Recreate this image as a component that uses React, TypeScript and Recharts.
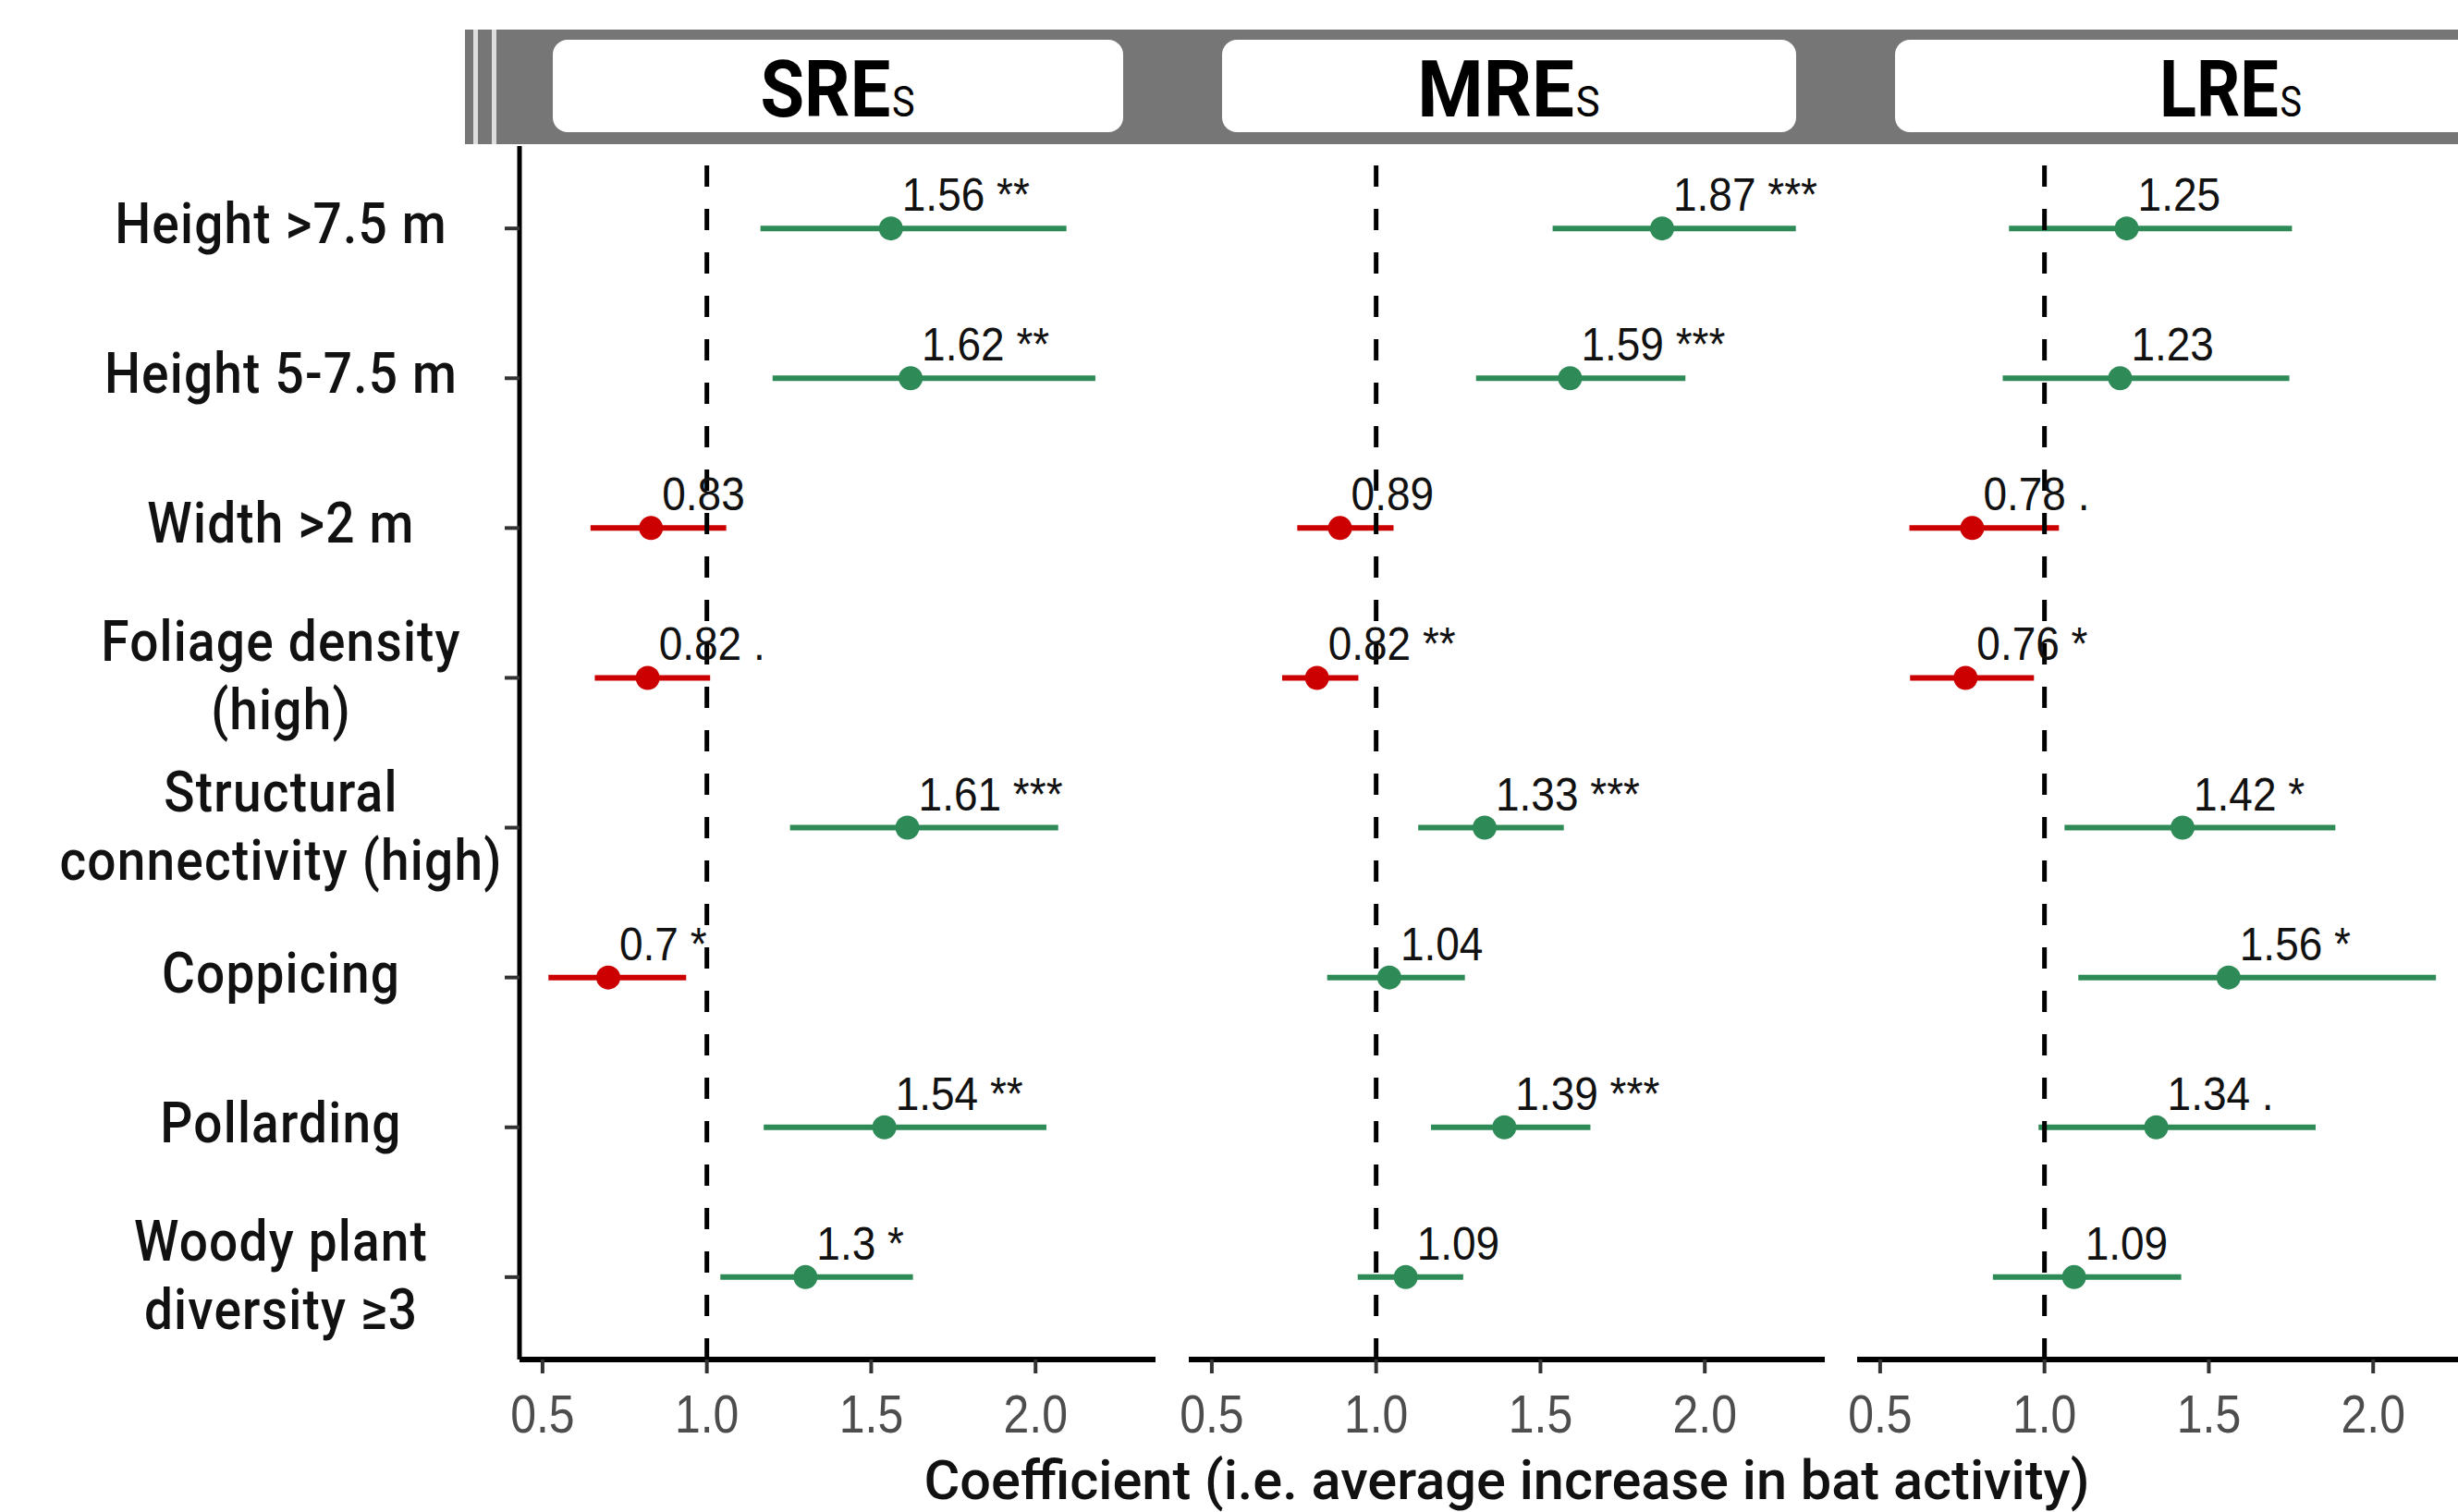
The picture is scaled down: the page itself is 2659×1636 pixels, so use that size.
import React from 'react';
import { ScatterChart, Scatter, XAxis, YAxis, ErrorBar, ReferenceLine } from 'recharts';

// rows, top to bottom
const CATEGORIES = [
    'Height >7.5 m',
    'Height 5-7.5 m',
    'Width >2 m',
    'Foliage density\n(high)',
    'Structural\nconnectivity (high)',
    'Coppicing',
    'Pollarding',
    'Woody plant\ndiversity ≥3',
];

const SRE_COEF = [1.56, 1.62, 0.83, 0.82, 1.61, 0.7, 1.54, 1.3];
const SRE_LO = [1.163, 1.2, 0.646, 0.659, 1.253, 0.518, 1.173, 1.041];
const SRE_HI = [2.094, 2.182, 1.059, 1.01, 2.069, 0.937, 2.033, 1.627];
const SRE_SIG = ['**', '**', '', '.', '***', '*', '**', '*'];

const MRE_COEF = [1.87, 1.59, 0.89, 0.82, 1.33, 1.04, 1.39, 1.09];
const MRE_LO = [1.537, 1.304, 0.76, 0.714, 1.128, 0.851, 1.167, 0.944];
const MRE_HI = [2.277, 1.941, 1.053, 0.946, 1.571, 1.27, 1.652, 1.265];
const MRE_SIG = ['***', '***', '', '**', '***', '', '***', ''];

const LRE_COEF = [1.25, 1.23, 0.78, 0.76, 1.42, 1.56, 1.34, 1.09];
const LRE_LO = [0.892, 0.873, 0.589, 0.591, 1.061, 1.103, 0.982, 0.843];
const LRE_HI = [1.753, 1.745, 1.044, 0.968, 1.885, 2.191, 1.825, 1.416];
const LRE_SIG = ['', '', '.', '*', '*', '*', '.', ''];

const X_TICKS = [0.5, 1.0, 1.5, 2.0];
const X_DOMAIN = [0.43, 2.365];
const Y_DOMAIN = [0.45, 8.55];

const GREEN = '#2E8B57';
const RED = '#CC0000';

const W = 2659;
const H = 1636;
const PLOT_TOP = 158;
const XAXIS_H = 165;
const PANEL_W = 688;
const PANEL_LEFTS = [562, 1286, 2009];

function buildRows(coef: number[], lo: number[], hi: number[], sig: string[]) {
    return CATEGORIES.map((c, i) => ({
        idx: i + 1,
        category: c,
        coef: coef[i],
        err: [coef[i] - lo[i], hi[i] - coef[i]],
        label: sig[i] ? `${coef[i]} ${sig[i]}` : `${coef[i]}`,
    }));
}

const PANELS = [
    { name: 'SRE', rows: buildRows(SRE_COEF, SRE_LO, SRE_HI, SRE_SIG), stripCenter: 906, stripScale: 0.9, boxL: 598, boxR: 1215 },
    { name: 'MRE', rows: buildRows(MRE_COEF, MRE_LO, MRE_HI, MRE_SIG), stripCenter: 1632, stripScale: 0.95, boxL: 1322, boxR: 1943 },
    { name: 'LRE', rows: buildRows(LRE_COEF, LRE_LO, LRE_HI, LRE_SIG), stripCenter: 2413, stripScale: 0.86, boxL: 2050, boxR: 2776 },
];

// point + value label drawn together
function makeShape(color: string) {
    return (props: any) => {
        const { cx, cy, payload } = props;
        if (cx == null || cy == null) return <g />;
        return (
            <g>
                <circle cx={cx} cy={cy} r={13} fill={color} />
                <text
                    transform={`translate(${cx + 12},${cy - 19}) scale(1,1.07)`}
                    fontFamily="'Liberation Sans', Arial, sans-serif"
                    fontSize={46}
                    fill="#111"
                >
                    {payload.label}
                </text>
            </g>
        );
    };
}

function XTick(props: any) {
    const { x, y, payload } = props;
    return (
        <text
            transform={`translate(${x},${y + 64}) scale(1,1.15)`}
            textAnchor="middle"
            fontFamily="'Liberation Sans', Arial, sans-serif"
            fontSize={50}
            fill="#4D4D4D"
        >
            {Number(payload.value).toFixed(1)}
        </text>
    );
}

function YTick(props: any) {
    const { y, payload } = props;
    const lines = CATEGORIES[payload.value - 1].split('\n');
    const offsets = lines.length === 1 ? [16] : [-18, 56];
    return (
        <g>
            {lines.map((ln, i) => (
                <text
                    key={i}
                    transform={`translate(304,${y + offsets[i]}) scale(1,1.1)`}
                    textAnchor="middle"
                    fontFamily="Roboto, 'Liberation Sans', sans-serif"
                    fontWeight={500}
                    fontSize={55}
                    letterSpacing={1.2}
                    fill="#111"
                >
                    {ln}
                </text>
            ))}
        </g>
    );
}

function Panel({ rows, index }: { rows: any[]; index: number }) {
    const first = index === 0;
    const left = first ? 0 : PANEL_LEFTS[index] - 10;
    const width = first ? PANEL_LEFTS[0] + PANEL_W + 10 : PANEL_W + 20;
    const green = rows.filter((r) => r.coef >= 1);
    const red = rows.filter((r) => r.coef < 1);
    return (
        <div style={{ position: 'absolute', left, top: 0 }}>
            <ScatterChart
                width={width}
                height={H}
                margin={{ top: PLOT_TOP, right: 10, bottom: 0, left: first ? 0 : 10 }}
            >
                <XAxis
                    type="number"
                    dataKey="coef"
                    domain={X_DOMAIN}
                    allowDataOverflow
                    ticks={X_TICKS}
                    height={XAXIS_H}
                    tickSize={15}
                    tickMargin={0}
                    axisLine={{ stroke: '#000', strokeWidth: 6 }}
                    tickLine={{ stroke: '#333', strokeWidth: 4 }}
                    tick={<XTick />}
                />
                <YAxis
                    type="number"
                    dataKey="idx"
                    domain={Y_DOMAIN}
                    reversed
                    allowDataOverflow
                    ticks={[1, 2, 3, 4, 5, 6, 7, 8]}
                    hide={!first}
                    width={first ? PANEL_LEFTS[0] : 0}
                    tickSize={16}
                    tickMargin={0}
                    axisLine={{ stroke: '#000', strokeWidth: 5 }}
                    tickLine={{ stroke: '#333', strokeWidth: 4 }}
                    tick={<YTick />}
                />
                <Scatter data={green} shape={makeShape(GREEN)} isAnimationActive={false}>
                    <ErrorBar dataKey="err" direction="x" width={0} stroke={GREEN} strokeWidth={6} isAnimationActive={false} />
                </Scatter>
                <Scatter data={red} shape={makeShape(RED)} isAnimationActive={false}>
                    <ErrorBar dataKey="err" direction="x" width={0} stroke={RED} strokeWidth={6} isAnimationActive={false} />
                </Scatter>
                <ReferenceLine x={1} stroke="#000" strokeWidth={5} strokeDasharray="23 24" />
            </ScatterChart>
        </div>
    );
}

function Header() {
    return (
        <svg width={W} height={H} style={{ position: 'absolute', left: 0, top: 0, pointerEvents: 'none' }}>
            <rect x={503} y={32} width={9} height={124} fill="#767676" />
            <rect x={512} y={32} width={5} height={124} fill="#dedede" />
            <rect x={517} y={32} width={15} height={124} fill="#767676" />
            <rect x={532} y={32} width={5} height={124} fill="#dedede" />
            <rect x={537} y={32} width={W - 537} height={124} fill="#767676" />
            {PANELS.map((p) => (
                <g key={p.name}>
                    <rect x={p.boxL} y={43} width={p.boxR - p.boxL} height={100} rx={16} fill="#fff" />
                    <text
                        transform={`translate(${p.stripCenter},126) scale(${p.stripScale},1)`}
                        textAnchor="middle"
                        fontFamily="Roboto, 'Liberation Sans', sans-serif"
                        fill="#000"
                    >
                        <tspan fontWeight={700} fontSize={86}>
                            {p.name}
                        </tspan>
                        <tspan fontWeight={400} fontSize={46} dx={2}>
                            S
                        </tspan>
                    </text>
                </g>
            ))}
            <text
                transform="translate(1630,1622) scale(1,1.14)"
                textAnchor="middle"
                fontFamily="Roboto, 'Liberation Sans', sans-serif"
                fontWeight={500}
                fontSize={52}
                textLength={1261}
                lengthAdjust="spacingAndGlyphs"
                fill="#111"
            >
                Coefficient (i.e. average increase in bat activity)
            </text>
        </svg>
    );
}

export default function App() {
    return (
        <div
            style={{
                position: 'fixed',
                left: 0,
                top: 0,
                width: W,
                height: H,
                overflow: 'hidden',
                background: '#fff',
            }}
        >
            {PANELS.map((p, i) => (
                <Panel key={p.name} rows={p.rows} index={i} />
            ))}
            <Header />
        </div>
    );
}
